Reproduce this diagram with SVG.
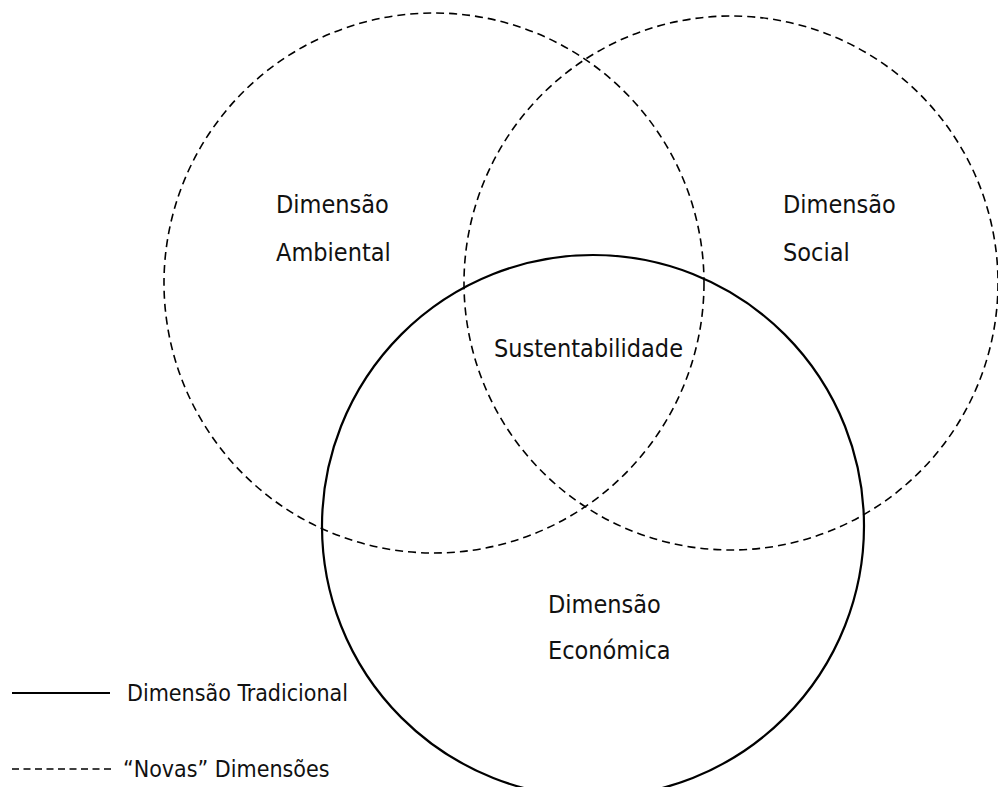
<svg xmlns="http://www.w3.org/2000/svg" width="998" height="787" viewBox="0 0 998 787">
<style>
.dash{fill:none;stroke:#000;stroke-width:1.6;stroke-dasharray:8 5}
.solid{fill:none;stroke:#000;stroke-width:2.2}
text{font-family:"DejaVu Sans Condensed","DejaVu Sans",sans-serif;font-size:25px;fill:#111}
.leg{font-size:23px}
</style>
<rect width="998" height="787" fill="#fff"/>
<g id="ambiental">
<circle class="dash" cx="434" cy="283" r="270"/>
<text x="276" y="213">Dimensão</text>
<text x="276" y="261">Ambiental</text>
</g>
<g id="social">
<circle class="dash" cx="731" cy="283" r="267"/>
<text x="783" y="213">Dimensão</text>
<text x="783" y="261">Social</text>
</g>
<g id="economica">
<circle class="solid" cx="593" cy="526" r="271"/>
<text x="548" y="613">Dimensão</text>
<text x="548" y="659">Económica</text>
</g>
<g id="sustentabilidade">
<text x="494" y="357">Sustentabilidade</text>
</g>
<g id="legenda">
<line class="solid" x1="12" y1="693" x2="110" y2="693"/>
<text class="leg" x="127" y="701">Dimensão Tradicional</text>
<line class="dash" x1="12" y1="769" x2="114" y2="769" style="stroke-dasharray:7 4.5;stroke-width:1.4"/>
<text class="leg" x="123" y="777">“Novas” Dimensões</text>
</g>
</svg>
